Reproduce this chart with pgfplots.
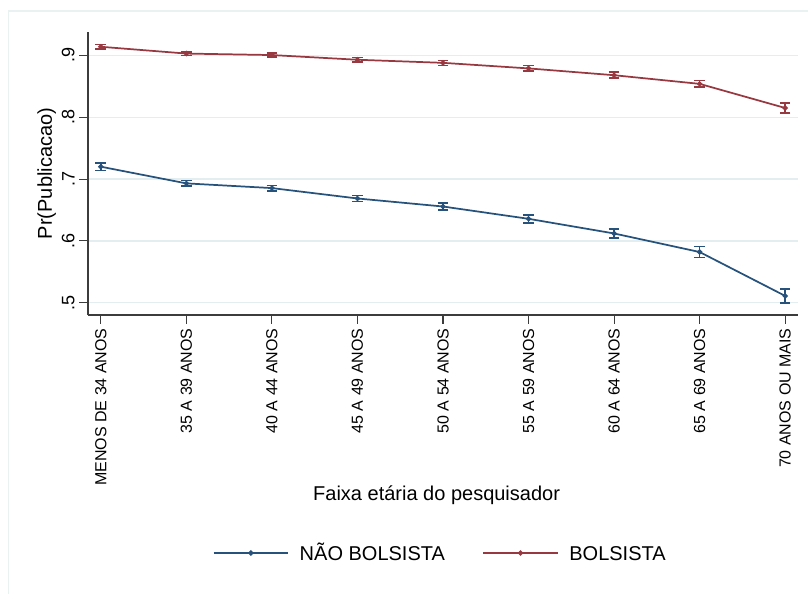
\documentclass[border=0pt]{standalone}
\usepackage{pgfplots}
\pgfplotsset{compat=1.18}
\usepackage{fontspec}
\setmainfont{Liberation Sans}
\definecolor{sblue}{RGB}{38,82,124}
\definecolor{sred}{RGB}{152,56,64}
\definecolor{sgrid}{RGB}{228,237,240}
\definecolor{sframe}{RGB}{234,241,241}
\definecolor{saxis}{RGB}{60,60,60}
\begin{document}
\begin{tikzpicture}
\path[use as bounding box] (0,0) rectangle (606pt,445.5pt);
\draw[sframe, line width=1pt] (6.2pt,0) -- (6.2pt,437.3pt) -- (606pt,437.3pt);
\begin{axis}[
  at={(66pt,209.25pt)}, anchor=south west,
  scale only axis, width=532.5pt, height=212.25pt,
  xmin=-0.15, xmax=8.15, ymin=0.4801, ymax=0.9379,
  axis x line*=bottom, axis y line*=left,
  axis line style={-, saxis, line width=0.8pt},
  tick align=outside, major tick length=6.5pt,
  tick style={saxis, line width=0.8pt},
  xtick={0,...,8},
  xticklabels={MENOS DE 34 ANOS,35 A 39 ANOS,40 A 44 ANOS,45 A 49 ANOS,50 A 54 ANOS,55 A 59 ANOS,60 A 64 ANOS,65 A 69 ANOS,70 ANOS OU MAIS},
  xticklabel style={rotate=90, anchor=east, font=\fontsize{12}{14}\selectfont},
  ytick={0.5,0.6,0.7,0.8,0.9},
  yticklabels={.5,.6,.7,.8,.9},
  yticklabel style={rotate=90, anchor=south, font=\fontsize{13.5}{15}\selectfont},
  ymajorgrids, grid style={sgrid, line width=1.1pt},
  every axis y label/.style={at={(axis description cs:-0.0507,0.5)}, rotate=90, anchor=base},
  every axis x label/.style={at={(axis description cs:0.491,-0.656)}, anchor=base},
  ylabel={Pr(Publicacao)},
  xlabel={Faixa etária do pesquisador},
  label style={font=\fontsize{15}{18}\selectfont},
  legend style={at={(axis description cs:0.4965,-0.841)}, anchor=center, draw=none, fill=none,
    legend columns=2, font=\fontsize{15}{18}\selectfont,
    /tikz/every odd column/.append style={column sep=6pt},
    /tikz/every even column/.append style={column sep=26pt}},
  legend image code/.code={\draw[#1, mark repeat=2, mark phase=2] plot coordinates {(0pt,0pt) (28pt,0pt) (56pt,0pt)};},
]
\addplot[sblue, line width=1.3pt, mark=*, mark size=1.3pt,
  error bars/.cd, y dir=both, y explicit,
  error mark options={rotate=90, mark size=4pt, line width=1.2pt, sblue},
  error bar style={line width=1.2pt}]
  coordinates {
  (0,0.720) +- (0,0.006)
  (1,0.693) +- (0,0.0045)
  (2,0.6854) +- (0,0.0045)
  (3,0.6686) +- (0,0.005)
  (4,0.6556) +- (0,0.0055)
  (5,0.6357) +- (0,0.0065)
  (6,0.612) +- (0,0.0075)
  (7,0.582) +- (0,0.0086)
  (8,0.511) +- (0,0.011)
  };
\addlegendentry{\strut NÃO BOLSISTA}
\addplot[sred, line width=1.3pt, mark=*, mark size=1.3pt,
  error bars/.cd, y dir=both, y explicit,
  error mark options={rotate=90, mark size=4pt, line width=1.2pt, sred},
  error bar style={line width=1.2pt}]
  coordinates {
  (0,0.914) +- (0,0.0035)
  (1,0.903) +- (0,0.003)
  (2,0.9006) +- (0,0.003)
  (3,0.893) +- (0,0.0035)
  (4,0.888) +- (0,0.004)
  (5,0.879) +- (0,0.0045)
  (6,0.868) +- (0,0.005)
  (7,0.854) +- (0,0.0055)
  (8,0.815) +- (0,0.0078)
  };
\addlegendentry{\strut BOLSISTA}
\end{axis}
\end{tikzpicture}
\end{document}
